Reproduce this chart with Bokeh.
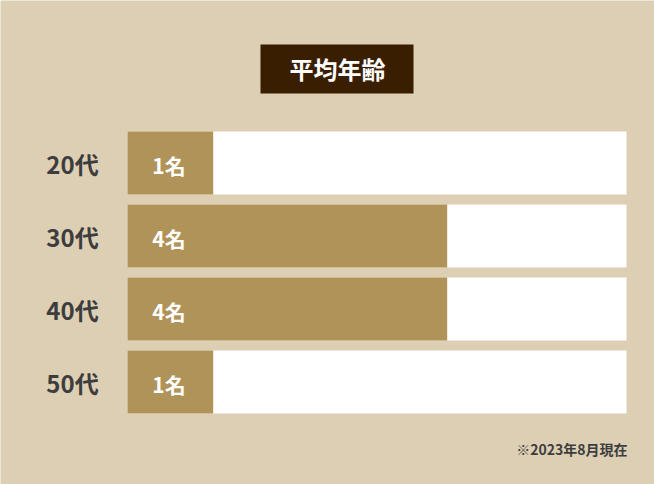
from bokeh.plotting import figure
from bokeh.models import Range1d
from bokeh.core.properties import value
from bokeh.embed import file_html
from bokeh.resources import INLINE

# ---- data ----
categories = ["20代", "30代", "40代", "50代"]
counts = [1, 4, 4, 1]
count_labels = [f"{c}名" for c in counts]
title_text = "平均年齢"
note_text = "※2023年8月現在"

# ---- layout constants (reference pixel space) ----
W, H = 654, 484
OFF = 0
X0_PX, XS = 134.7, 78.0  # pixel of value 0, pixels per person
Y0_PX, YS = 162.5, 73.0  # pixel of first row centre, pixels per row

def X(px):
    return (px - X0_PX) / XS

def Y(py):
    return (Y0_PX - py) / YS

BAR_BASE = X(127)
TRACK_MAX = X(626)
BAR_H = 63 / YS

BG = "#dccfb4"
FILL = "#b09359"
DARK = "#3a1e02"
GREY = "#3d3d3d"
FONT = value("Noto Sans CJK JP")

p = figure(width=W, height=H, output_backend="svg", toolbar_location=None,
           x_range=Range1d(X(OFF), X(OFF + W)), y_range=Range1d(Y(OFF + H), Y(OFF)),
           min_border=0)
p.axis.visible = False
p.grid.visible = False
p.outline_line_color = None
p.background_fill_color = BG
p.border_fill_color = BG

ys = [-i for i in range(len(categories))]

# white tracks
p.hbar(y=ys, left=BAR_BASE, right=TRACK_MAX, height=BAR_H, fill_color="white", line_color=None)
# filled bars
p.hbar(y=ys, left=BAR_BASE, right=counts, height=BAR_H, fill_color=FILL, line_color=None)

# category labels
p.text(x=[X(72)] * len(ys), y=ys, text=categories, text_font=FONT, text_font_style="bold",
       text_font_size="24px", text_color=GREY, text_align="center", text_baseline="middle",
       y_offset=0)
# count labels
p.text(x=[X(168.5)] * len(ys), y=ys, text=count_labels, text_font=FONT, text_font_style="bold",
       text_font_size="21px", text_color="white", text_align="center", text_baseline="middle",
       y_offset=2)

# title box
p.quad(left=[X(260)], right=[X(413)], top=[Y(44)], bottom=[Y(93)], fill_color=DARK, line_color=None)
p.text(x=[X(337)], y=[Y(68)], text=[title_text], text_font=FONT, text_font_style="bold",
       text_font_size="24px", text_color="white", text_align="center", text_baseline="middle")

# note
p.text(x=[X(627)], y=[Y(448.5)], text=[note_text], text_font=FONT, text_font_style="bold",
       text_font_size="14px", text_color=GREY, text_align="right", text_baseline="middle")

open("out.html", "w").write(file_html(p, INLINE))
